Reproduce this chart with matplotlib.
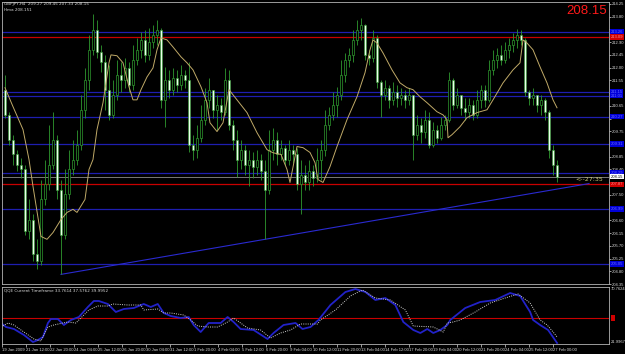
import numpy as np
import matplotlib
matplotlib.use("Agg")
import matplotlib.pyplot as plt
from matplotlib.transforms import blended_transform_factory

# ---- GBPJPY H4 candles (bar 0 .. 138) ----
opens = [211.22, 210.33, 209.45, 208.93, 208.57, 208.40, 206.21, 206.63, 205.40, 205.15,
         207.34, 207.87, 208.57, 209.45, 207.69, 206.10, 207.52, 208.40, 208.75, 209.28,
         210.51, 211.57, 212.63, 213.33, 212.56, 212.20, 211.22, 210.33, 211.04, 211.75,
         211.57, 211.99, 211.39, 212.28, 212.63, 212.98, 212.45, 212.91, 213.16, 213.33,
         210.86, 211.57, 211.22, 211.64, 211.39, 211.75, 211.57, 209.28, 209.10, 209.52,
         210.16, 210.86, 211.22, 210.51, 210.69, 210.44, 211.57, 209.98, 209.45, 208.75,
         209.10, 208.57, 208.75, 208.47, 208.75, 208.33, 207.69, 209.10, 209.45, 208.93,
         209.17, 208.75, 209.10, 208.93, 207.87, 208.22, 207.97, 208.33, 208.11, 208.75,
         209.10, 209.98, 210.33, 210.69, 211.04, 211.75, 212.28, 212.45, 212.98, 213.33,
         213.51, 212.45, 212.35, 213.05, 211.50, 211.04, 211.29, 210.86, 211.15, 210.94,
         211.04, 210.86, 211.04, 209.63, 209.98, 209.74, 210.16, 209.28, 209.81, 209.52,
         209.98, 210.16, 211.57, 210.69, 211.04, 210.58, 210.44, 210.69, 210.33, 210.86,
         211.22, 210.86, 211.92, 212.28, 212.45, 212.28, 212.63, 212.80, 212.98, 213.16,
         212.98, 211.15, 210.94, 211.04, 210.69, 210.86, 210.44, 209.10, 208.57]
highs = [211.75, 210.44, 209.63, 209.10, 208.82, 208.57, 207.34, 206.81, 205.93, 208.04,
         208.75, 209.98, 210.44, 209.63, 208.04, 208.40, 209.10, 209.45, 209.81, 211.04,
         211.99, 213.16, 213.90, 213.69, 212.80, 212.45, 212.10, 211.57, 212.28, 212.20,
         212.35, 212.20, 212.80, 213.05, 213.26, 213.33, 213.40, 213.51, 213.69, 213.40,
         212.03, 211.92, 211.99, 211.92, 212.10, 211.92, 212.20, 209.63, 209.98, 210.69,
         211.29, 211.64, 211.22, 211.04, 210.94, 211.99, 211.92, 210.16, 209.81, 209.45,
         209.28, 209.10, 209.03, 209.10, 208.93, 208.75, 209.81, 209.88, 209.74, 209.45,
         209.28, 209.45, 209.28, 209.17, 208.75, 208.57, 208.75, 208.57, 209.17, 209.45,
         210.51, 210.62, 211.15, 211.32, 212.28, 212.52, 212.70, 213.33, 213.69, 213.75,
         213.55, 212.63, 213.33, 213.16, 211.57, 211.57, 211.39, 211.50, 211.39, 211.29,
         211.22, 211.29, 211.04, 210.33, 210.23, 210.51, 210.44, 210.09, 209.98, 210.27,
         210.33, 211.85, 211.64, 211.29, 211.04, 210.94, 210.94, 210.86, 211.22, 211.39,
         211.39, 212.28, 212.63, 212.70, 212.80, 212.91, 213.05, 213.23, 213.37, 213.33,
         213.05, 211.22, 211.29, 211.04, 211.04, 210.94, 210.51, 209.28, 208.75]
lows = [210.23, 209.28, 208.57, 208.33, 208.11, 206.07, 205.93, 205.15, 204.87, 205.01,
        207.16, 207.69, 208.40, 207.34, 204.69, 205.93, 207.34, 208.22, 208.57, 209.10,
        210.23, 211.22, 212.45, 212.35, 211.85, 210.51, 210.16, 210.23, 210.86, 211.15,
        211.29, 211.15, 211.22, 212.10, 212.35, 212.20, 212.28, 212.70, 212.80, 210.58,
        209.91, 210.94, 211.04, 211.15, 211.22, 211.29, 209.03, 208.75, 208.82, 209.38,
        209.98, 210.58, 210.23, 209.81, 210.16, 210.33, 209.81, 209.10, 208.15, 208.40,
        208.22, 207.80, 208.11, 208.22, 208.04, 205.93, 207.52, 208.75, 208.57, 208.75,
        208.57, 208.57, 208.64, 207.69, 206.81, 207.69, 207.69, 207.80, 207.97, 208.04,
        208.86, 209.81, 210.16, 210.27, 210.86, 211.50, 212.03, 212.20, 212.80, 212.98,
        212.28, 212.10, 212.20, 211.29, 210.27, 210.86, 210.58, 210.69, 210.62, 210.69,
        210.58, 210.69, 208.75, 209.45, 209.35, 209.52, 209.17, 209.20, 209.35, 209.45,
        209.81, 210.09, 210.51, 210.58, 210.33, 210.16, 210.23, 210.16, 210.23, 210.58,
        210.62, 210.79, 211.75, 211.99, 212.10, 212.17, 212.35, 212.56, 212.70, 212.80,
        211.01, 210.69, 210.69, 210.44, 210.33, 210.16, 208.82, 208.22, 207.97]
closes = [210.33, 209.45, 208.93, 208.57, 208.40, 206.21, 206.63, 205.40, 205.15, 207.34,
          207.87, 208.57, 209.45, 207.69, 206.10, 207.52, 208.40, 208.75, 209.28, 210.51,
          211.57, 212.63, 213.33, 212.56, 212.20, 211.22, 210.33, 211.04, 211.75, 211.57,
          211.99, 211.39, 212.28, 212.63, 212.98, 212.45, 212.91, 213.16, 213.33, 210.86,
          211.57, 211.22, 211.64, 211.39, 211.75, 211.57, 209.28, 209.10, 209.52, 210.16,
          210.86, 211.22, 210.51, 210.69, 210.44, 211.57, 209.98, 209.45, 208.75, 209.10,
          208.57, 208.75, 208.47, 208.75, 208.33, 207.69, 209.10, 209.45, 208.93, 209.17,
          208.75, 209.10, 208.93, 207.87, 208.22, 207.97, 208.33, 208.11, 208.75, 209.10,
          209.98, 210.33, 210.69, 211.04, 211.75, 212.28, 212.45, 212.98, 213.33, 213.51,
          212.45, 212.35, 213.05, 211.50, 211.04, 211.29, 210.86, 211.15, 210.94, 211.04,
          210.86, 211.04, 209.63, 209.98, 209.74, 210.16, 209.28, 209.81, 209.52, 209.98,
          210.16, 211.57, 210.69, 211.04, 210.58, 210.44, 210.69, 210.33, 210.86, 211.22,
          210.86, 211.92, 212.28, 212.45, 212.28, 212.63, 212.80, 212.98, 213.16, 212.98,
          211.15, 210.94, 211.04, 210.69, 210.86, 210.44, 209.10, 208.57, 208.15]

# moving average (Hma): bar position -> price
ma_bars = [0, 2, 4.5, 6, 7, 9, 10.5, 12, 14, 15.5, 17, 18, 20, 21, 22, 23, 24.5, 26, 26.5, 28,
           29.5, 31, 32, 33, 34, 35.5, 37, 38, 39, 40.5, 42, 44, 45.5, 47, 49, 50.5, 51.25, 53, 54.5, 56,
           58, 60.5, 63, 65.5, 67, 69, 70.5, 71.25, 73, 74.5, 76.25, 77.5, 78.25, 79.5, 81.25, 83, 85.5,
           88, 90, 91.25, 92, 93, 94.5, 96.75, 98.75, 100.5, 102, 103.75, 105.5, 108, 109.5, 110.5,
           110.75, 111.75, 113.75, 115.5, 118, 120.5, 122, 124.5, 127, 128.75, 129.5, 130.5, 132,
           133.75, 135.5, 137, 138]
ma_vals = [211.29, 210.62, 209.81, 208.75, 207.80, 206.03, 205.93, 206.17, 206.63, 206.88,
           206.99, 206.88, 207.34, 208.40, 208.75, 209.81, 210.76, 212.17, 212.45, 212.42,
           212.17, 211.32, 210.86, 210.86, 211.22, 211.67, 211.99, 212.63, 213.05, 212.98,
           212.73, 212.38, 212.17, 211.92, 211.32, 210.76, 210.05, 209.74, 210.05, 211.22,
           210.86, 210.41, 209.70, 209.10, 208.99, 208.93, 208.40, 207.94, 209.21, 209.17,
           209.00, 208.64, 208.04, 207.94, 208.50, 209.21, 210.16, 210.97, 211.82, 212.63,
           212.98, 212.87, 212.52, 211.92, 211.46, 211.29, 211.22, 210.97, 210.76, 210.44,
           210.33, 210.16, 209.52, 209.63, 209.91, 210.23, 210.41, 210.51, 210.86, 211.46,
           211.92, 212.17, 212.98, 212.87, 212.63, 212.03, 211.46, 210.86, 210.58]

# horizontal levels and trendline
blue_levels = [213.26, 211.15, 211.01, 210.27, 209.31, 208.29, 206.99, 205.05]
red_levels = [213.09, 207.87]
last_price = 208.15
trend_bars = [14, 146]
trend_prices = [204.69, 207.90]

price_ticks = [214.25, 213.80, 213.35, 212.90, 212.45, 212.00, 211.55, 211.10, 210.65, 210.20,
               209.75, 209.30, 208.85, 208.40, 207.95, 207.50, 207.05, 206.60, 206.15, 205.70,
               205.25, 204.80, 204.35]

# QQE indicator
qb_bars = [-1.25, 0, 2, 4.5, 6.75, 8, 9.25, 10.5, 11.25, 13, 14.5, 16.25, 18.25, 20.5, 22, 23.25,
           25.5, 27.5, 29.5, 32, 34.5, 36.25, 38, 39.5, 41.25, 43.75, 45.75, 47, 48.75, 50.75,
           53.75, 55.5, 57, 58.75, 62, 65.5, 67, 69.5, 72.5, 74.25, 76.25, 78.25, 81.25, 85, 87.5,
           90, 92.5, 95, 97.5, 99.5, 102, 103.75, 105.5, 107, 108.75, 110.5, 111.25, 115, 118.75,
           122.5, 126.25, 128.75, 131.25, 132, 133.75, 135.75, 138]
qb_vals = [45, 41, 39, 33, 26, 28, 31, 45, 49, 49, 43, 48, 51, 61, 67, 67, 64, 56, 59, 60,
           64, 61, 64, 55, 52, 50, 51, 43, 36, 45, 45, 51, 46, 39, 38, 29, 35, 43, 45, 39,
           41, 48, 63, 76, 79, 76, 68, 70, 63, 46, 38, 35, 39, 35, 38, 43, 48, 60, 66, 68,
           75, 72, 56, 48, 43, 38, 25]
qw_bars = [-1.25, 0.5, 2, 3.75, 7, 8.75, 10.5, 12, 14.25, 15.5, 17.5, 18.75, 20.75, 23, 25.5,
           26.75, 30.5, 33.75, 34.5, 38, 39.5, 41.25, 44.5, 46.25, 48, 50.5, 53, 55.5, 57, 58.75,
           60.5, 63.75, 66.25, 68.75, 71.25, 73.75, 78, 78.75, 82.5, 86.25, 89.25, 92.5, 96.25,
           100, 102, 107, 109.5, 110.5, 112, 113.75, 117.5, 121.25, 125, 128.25, 131.25, 133.75,
           135.5, 137, 138]
qw_vals = [41, 45, 43, 38, 29, 27, 41, 43, 45, 46, 45, 50, 58, 62, 62, 64, 63, 63, 58, 59,
           55, 55, 53, 48, 42, 41, 41, 46, 50, 45, 40, 38, 30, 35, 38, 44, 44, 48, 58, 72,
           78, 70, 68, 58, 42, 41, 36, 45, 46, 48, 56, 65, 70, 74, 65, 48, 43, 36, 31]

date_labels = ["19 Jan 2009", "21 Jan 12:00", "22 Jan 20:00", "24 Jan 04:00", "25 Jan 12:00",
               "26 Jan 20:00", "30 Jan 04:00", "31 Jan 12:00", "1 Feb 20:00", "4 Feb 04:00",
               "5 Feb 12:00", "6 Feb 20:00", "9 Feb 04:00", "10 Feb 12:00", "11 Feb 20:00",
               "13 Feb 04:00", "14 Feb 12:00", "17 Feb 20:00", "19 Feb 04:00", "20 Feb 12:00",
               "21 Feb 20:00", "24 Feb 04:00", "25 Feb 12:00", "27 Feb 00:00"]

BG = "black"
FRAME = "#b4b4b4"
TXT = "#d8d8d8"
WICK = "#2f9a2f"
BLUE = "#1e1eb0"
RED = "#c80000"
FS = 3.0
FONT = "Liberation Sans"

fig = plt.figure(figsize=(6.25, 3.54), dpi=100, facecolor=BG)
ax = fig.add_axes([2 / 625, 1 - 284 / 354, 607 / 625, 282 / 354], facecolor=BG)
ax2 = fig.add_axes([2 / 625, 1 - 344 / 354, 607 / 625, 57 / 354], facecolor=BG)

for a in (ax, ax2):
    for s in a.spines.values():
        s.set_color(FRAME)
        s.set_linewidth(0.6)
    a.set_xlim(-0.75, 151)

# --- main price panel ---
ax.set_ylim(204.38, 214.32)
for lv in blue_levels:
    ax.axhline(lv, color=BLUE, lw=0.9, zorder=1)
for lv in red_levels:
    ax.axhline(lv, color=RED, lw=0.9, zorder=1)
ax.axhline(last_price, color="#8c8c8c", lw=0.6, zorder=1)
ax.plot(trend_bars, trend_prices, color="#2a2ad0", lw=0.8, zorder=1)

x = np.arange(len(closes))
o = np.array(opens)
c = np.array(closes)
up = c >= o
ax.vlines(x, lows, highs, color=WICK, lw=0.6, zorder=2)
ax.bar(x[up], (c - o)[up], bottom=o[up], width=0.55, color="black",
       edgecolor=WICK, linewidth=0.5, zorder=3)
ax.bar(x[~up], (o - c)[~up], bottom=c[~up], width=0.55, color="#eaffea",
       edgecolor=WICK, linewidth=0.4, zorder=3)

ax.plot(ma_bars, ma_vals, color="#c0aa68", lw=0.7, zorder=4)

# price scale: labels hidden where a level box sits on top of them
boxed = blue_levels + red_levels + [last_price]
ax.set_xticks([])
ax.yaxis.tick_right()
ax.set_yticks(price_ticks)
ax.set_yticklabels(["" if min(abs(t - b) for b in boxed) < 0.1 else f"{t:.2f}"
                    for t in price_ticks], family=FONT)
ax.tick_params(axis="y", labelsize=FS, colors=TXT, length=1.2, width=0.5, pad=0.5)

tr = blended_transform_factory(ax.transAxes, ax.transData)
for lv in blue_levels:
    ax.text(1.0025, lv, f"{lv:.2f}", transform=tr, fontsize=FS, color="#6a6aff",
            va="center", ha="left", zorder=6, family=FONT,
            bbox=dict(boxstyle="square,pad=0.2", fc="#0000d8", ec="none"))
for lv in red_levels:
    ax.text(1.0025, lv, f"{lv:.2f}", transform=tr, fontsize=FS, color="#ff9090",
            va="center", ha="left", zorder=6, family=FONT,
            bbox=dict(boxstyle="square,pad=0.2", fc="#d00000", ec="none"))
ax.text(1.0025, last_price, f"{last_price:.2f}", transform=tr, fontsize=FS, color="black",
        va="center", ha="left", zorder=7, family=FONT,
        bbox=dict(boxstyle="square,pad=0.2", fc="white", ec="none"))

ax.text(142.5, 208.04, "<--27:35", fontsize=4.5, color="#c8c878", va="center", ha="left")

fig.text(4 / 625, 1 - 2 / 354, "GBPJPY,H4  209.27 209.45 207.33 208.15", fontsize=FS,
         color=TXT, va="top", ha="left")
fig.text(4 / 625, 1 - 8 / 354, "Hma 208.151", fontsize=FS, color=TXT, va="top", ha="left")
fig.text(607 / 625, 1 - 11 / 354, f"{last_price:.2f}", fontsize=9.5, color="#ff1a1a",
         va="center", ha="right", family=FONT)

# --- QQE panel ---
ax2.set_ylim(24, 81)
ax2.axhline(50, color=RED, lw=0.8, zorder=1)
ax2.plot(qb_bars, qb_vals, color="#2222c8", lw=1.3, zorder=2)
ax2.plot(qw_bars, qw_vals, color="#d0d0d0", lw=0.7, ls=(0, (1, 1.3)), zorder=3)
ax2.set_yticks([])
ax2.set_xticks(np.arange(-1, 138, 6))
ax2.set_xticklabels(date_labels, family=FONT)
ax2.tick_params(axis="x", labelsize=FS, colors=TXT, length=2, width=0.5, pad=0.8)
for lab in ax2.get_xticklabels():
    lab.set_ha("left")

fig.text(4 / 625, 1 - 288 / 354, "QQE Current Timeframe 33.7614 37.5762 39.9952",
         fontsize=FS, color=TXT, va="top", ha="left")
fig.text(610.5 / 625, 1 - 289 / 354, "70.7624", fontsize=FS, color=TXT, va="center",
         ha="left", family=FONT)
fig.text(610.5 / 625, 1 - 342 / 354, "21.9967", fontsize=FS, color=TXT, va="center",
         ha="left", family=FONT)
tr2 = blended_transform_factory(ax2.transAxes, ax2.transData)
ax2.text(1.006, 50, " ", transform=tr2, fontsize=FS, va="center", ha="left",
         bbox=dict(boxstyle="square,pad=0.3", fc="#d00000", ec="none"))

fig.savefig("out.png", dpi=100, facecolor=BG)
